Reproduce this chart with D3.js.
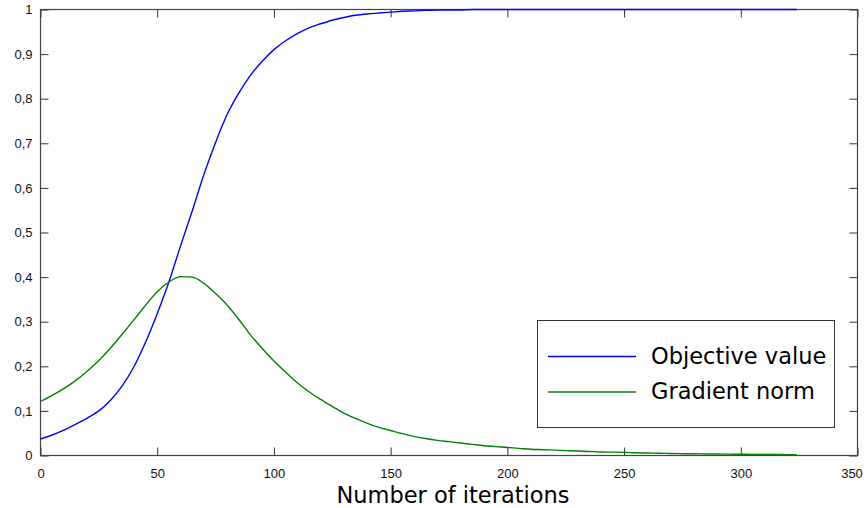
<!DOCTYPE html>
<html>
<head>
<meta charset="utf-8">
<script src="https://d3js.org/d3.v7.min.js"></script>
<style>
  html, body { margin: 0; padding: 0; background: #fff; }
  svg { display: block; }
</style>
</head>
<body>
<svg id="chart" width="864" height="508"></svg>
<script>
// ---- data ----
const iterations = [0,5,10,15,20,25,30,35,40,45,50,55,60,65,70,75,80,85,90,95,100,105,110,115,120,125,130,135,140,145,150,155,160,165,170,175,180,185,190,195,200,205,210,215,220,225,230,235,240,245,250,255,260,265,270,275,280,285,290,295,300,305,310,315,320,324];
const objectiveValue = [0.037,0.046,0.057,0.070,0.084,0.100,0.124,0.156,0.199,0.254,0.318,0.389,0.470,0.548,0.630,0.702,0.765,0.813,0.853,0.884,0.910,0.930,0.946,0.959,0.968,0.976,0.982,0.987,0.990,0.992,0.994,0.996,0.997,0.998,0.999,0.999,0.999,1,1,1,1,1,1,1,1,1,1,1,1,1,1,1,1,1,1,1,1,1,1,1,1,1,1,1,1,1];
const gradientNorm = [0.121,0.135,0.150,0.168,0.189,0.213,0.241,0.272,0.304,0.337,0.367,0.389,0.401,0.400,0.386,0.363,0.337,0.305,0.270,0.240,0.212,0.187,0.163,0.143,0.126,0.110,0.095,0.083,0.072,0.063,0.056,0.049,0.043,0.038,0.034,0.031,0.028,0.025,0.022,0.020,0.018,0.016,0.014,0.013,0.012,0.011,0.010,0.009,0.008,0.0075,0.007,0.006,0.0055,0.005,0.0045,0.004,0.0038,0.0035,0.0032,0.003,0.0028,0.0026,0.0024,0.0022,0.002,0.002];
const seriesNames = ["Objective value", "Gradient norm"];
const seriesColors = ["#0000ff", "#008000"];
const xTicks = [0,50,100,150,200,250,300,350];
const yTicks = [0,0.1,0.2,0.3,0.4,0.5,0.6,0.7,0.8,0.9,1];
const xLabel = "Number of iterations";

// ---- layout ----
const svg = d3.select("#chart");
const pLeft = 40.5, pRight = 857.5, pTop = 9.5, pBottom = 455.5;
const x = d3.scaleLinear().domain([0, 350]).range([pLeft, pRight]);
const y = d3.scaleLinear().domain([0, 1]).range([pBottom, pTop]);
const fmtY = d => d === 0 ? "0" : d === 1 ? "1" : d3.format(".1f")(d).replace(".", ",");

const tickFont = "'Liberation Sans', Arial, sans-serif";
const bigFont = "'DejaVu Sans', sans-serif";

// axes (ticks pointing inward, labels outside)
const gx = svg.append("g").attr("transform", `translate(0,${pBottom})`)
  .call(d3.axisBottom(x).tickValues(xTicks).tickSizeInner(-8).tickSizeOuter(0).tickPadding(13).tickFormat(d3.format("d")));
const gy = svg.append("g").attr("transform", `translate(${pLeft},0)`)
  .call(d3.axisLeft(y).tickValues(yTicks).tickSizeInner(-8).tickSizeOuter(0).tickPadding(8).tickFormat(fmtY));
const gxt = svg.append("g").attr("transform", `translate(0,${pTop})`)
  .call(d3.axisTop(x).tickValues(xTicks).tickSizeInner(-8).tickSizeOuter(0).tickFormat(""));
const gyr = svg.append("g").attr("transform", `translate(${pRight},0)`)
  .call(d3.axisRight(y).tickValues(yTicks).tickSizeInner(-8).tickSizeOuter(0).tickFormat(""));

[gx, gy, gxt, gyr].forEach(g => {
  g.select(".domain").remove();
  g.selectAll(".tick line").attr("stroke", "#333").attr("stroke-width", 1);
  g.selectAll("text").attr("font-family", tickFont).attr("font-size", 13).attr("fill", "#111");
});
// last x label kept inside the picture, as in the reference
gx.selectAll(".tick").filter(d => d === 350).select("text").attr("dx", -6);

// frame
svg.append("rect").attr("x", pLeft).attr("y", pTop).attr("width", pRight - pLeft).attr("height", pBottom - pTop)
  .attr("fill", "none").attr("stroke", "#444").attr("stroke-width", 1.2);

// lines
const series = [objectiveValue, gradientNorm];
const line = d3.line().x((d, i) => x(iterations[i])).y(d => y(d)).curve(d3.curveMonotoneX);
series.forEach((s, k) => {
  svg.append("path").datum(s).attr("d", line).attr("fill", "none")
    .attr("stroke", seriesColors[k]).attr("stroke-width", 1.4).attr("stroke-linejoin", "round");
});

// legend
const lg = svg.append("g");
lg.append("rect").attr("x", 537.5).attr("y", 320.5).attr("width", 297).attr("height", 107)
  .attr("fill", "#fff").attr("stroke", "#333").attr("stroke-width", 1);
seriesNames.forEach((name, k) => {
  const ly = 356.5 + k * 35.5;
  lg.append("line").attr("x1", 548).attr("x2", 636).attr("y1", ly).attr("y2", ly)
    .attr("stroke", seriesColors[k]).attr("stroke-width", 1.4);
  lg.append("text").attr("x", 651).attr("y", ly + 7).attr("font-family", bigFont)
    .attr("font-size", 22.5).attr("fill", "#000").text(name);
});

// x label
svg.append("text").attr("x", (336.7 + 569.3) / 2).attr("y", 502.5).attr("text-anchor", "middle")
  .attr("font-family", bigFont).attr("font-size", 22.5).attr("fill", "#000").text(xLabel);
</script>
</body>
</html>
